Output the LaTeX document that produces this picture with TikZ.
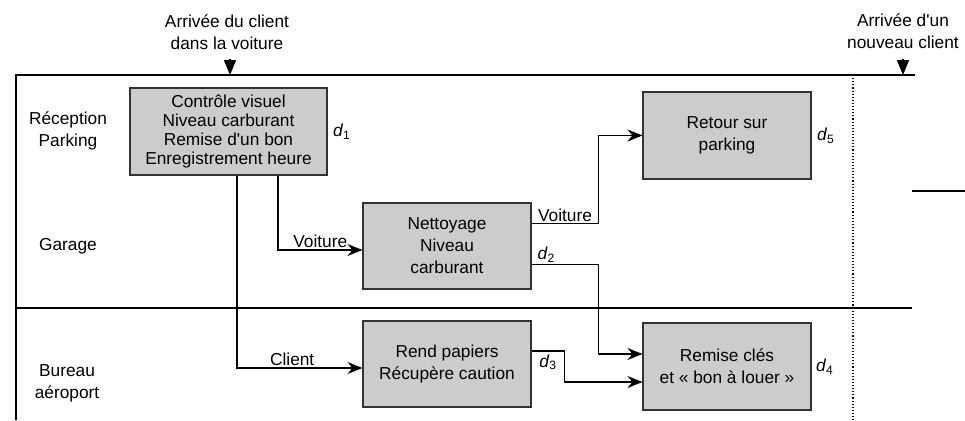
\documentclass[tikz,border=0pt]{standalone}
\usepackage{fontspec}
\setmainfont{Liberation Sans}
\usetikzlibrary{arrows.meta}

\begin{document}
\begin{tikzpicture}[x=1pt,y=-1pt,
	font=\fontsize{17.3pt}{22pt}\selectfont,
	box/.style={draw=black!80,fill=gray!40,line width=1.1pt,align=center,minimum width=168pt,minimum height=87pt,inner sep=2pt},
	arr/.style={line width=1.1pt,-{Stealth[length=15pt,width=12pt,inset=5pt]}},
	tri/.style={line width=1.1pt,-{Triangle[length=15pt,width=12pt]}},
	lane/.style={align=center}]
\useasboundingbox (0,0) rectangle (965,420);
% cadre et couloirs
\draw[line width=1.1pt] (16,420) -- (16,75) -- (915,75);
\draw[line width=1.1pt] (16,308) -- (912,308);
\draw[line width=1.1pt] (912,191) -- (965,191);
\draw[line width=1.1pt,dotted] (853,75) -- (853,420);
\node[lane] (recep) at (68,131) {Réception\\Parking};
\node[lane] (garage) at (68,246) {Garage};
\node[lane] (bureau) at (67,383) {Bureau\\aéroport};
% arrivees
\node[lane] (arr1) at (227,32) {Arrivée du client\\dans la voiture};
\node[lane] (arr2) at (903,31) {Arrivée d\textquotesingle un\\nouveau client};
\coordinate (in1) at (230,59);
\coordinate (in2) at (903,59);
\draw[tri] (in1) -- ++(0,16);
\draw[tri] (in2) -- ++(0,16);
% taches
\node[box,minimum width=197pt,font=\fontsize{17.3pt}{18.7pt}\selectfont] (ctrl) at (228.5,131.5) {Contrôle visuel\\Niveau carburant\\Remise d\textquotesingle un bon\\Enregistrement heure};
\node[box,minimum height=86pt] (nett) at (447,246) {Nettoyage\\Niveau\\carburant};
\node[box,minimum height=86pt] (papiers) at (447,364) {Rend papiers\\Récupère caution};
\node[box] (retour) at (727,135.5) {Retour sur\\parking};
\node[box] (cles) at (727,366.5) {Remise clés\\et «~bon à louer~»};
\node[right=2pt] (d1) at (ctrl.east) {\textit{d}\textsubscript{1}};
\node[right=2pt] (d5) at (retour.east) {\textit{d}\textsubscript{5}};
\node[right=1pt] (d4) at (cles.east) {\textit{d}\textsubscript{4}};
% liaisons
\draw[arr] ([xshift=49.5pt]ctrl.south) |- ([yshift=-4pt]nett.west) node[pos=0.75,above,inner sep=2pt] {Voiture};
\draw[arr] ([xshift=8.5pt]ctrl.south) |- ([yshift=-4pt]papiers.west) node[pos=0.72,above,inner sep=2pt] {Client};
\draw[arr] ([yshift=-21pt]nett.north east) -- ++(67,0) node[midway,above,inner sep=1pt] {Voiture} |- (retour.west);
\draw[arr] ([yshift=25pt]nett.south east) -- ++(67,0) node[pos=0.22,above,inner sep=2pt] {\textit{d}\textsubscript{2}} |- ([yshift=12.5pt]cles.west);
\draw[arr] ([yshift=13pt]papiers.east) -- ++(33,0) node[midway,below,inner sep=3pt] {\textit{d}\textsubscript{3}} |- ([yshift=-15.5pt]cles.west);
\end{tikzpicture}
\end{document}
